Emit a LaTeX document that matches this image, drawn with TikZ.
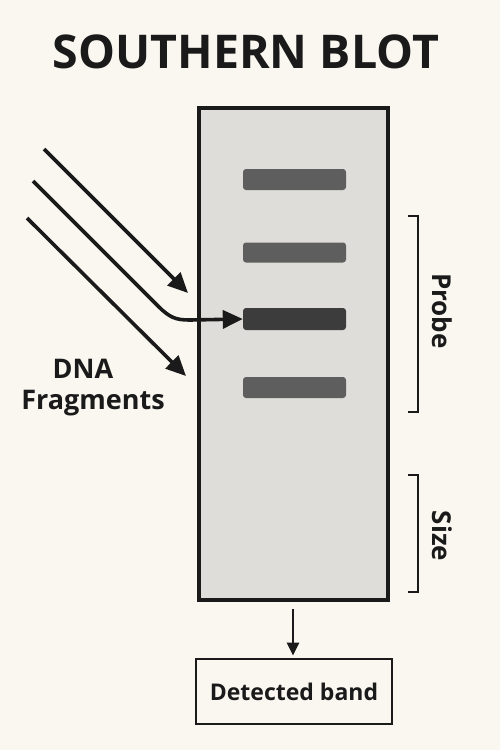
\documentclass[tikz,border=0pt]{standalone}
\usepackage{fontspec}
\setmainfont{Open Sans}
\usetikzlibrary{arrows.meta}
\definecolor{bgc}{HTML}{FAF7F1}
\definecolor{gelc}{HTML}{DFDDD9}
\definecolor{bandc}{HTML}{5E5E5E}
\definecolor{bandd}{HTML}{3C3C3C}
\definecolor{inkc}{HTML}{1A1A1A}
\tikzset{
  band/.style={fill=bandc, rounded corners=3pt, draw=none},
  fragarrow/.style={draw=inkc, line width=3.6pt, -{Triangle[length=20pt,width=18pt]}},
  bracketline/.style={draw=inkc, line width=2.6pt},
  lbl/.style={font=\bfseries\fontsize{26}{30}\selectfont, text=inkc, inner sep=0pt},
}
\begin{document}
\begin{tikzpicture}[x=1pt,y=-1pt]
\fill[bgc] (0,0) rectangle (500,750);
\useasboundingbox (0,0) rectangle (500,750);
% title
\node[font=\bfseries\fontsize{46.5}{54}\selectfont, text=inkc, inner sep=0pt] (title) at (246,52) {SOUTHERN BLOT};
% gel
\node[draw=inkc, line width=3.4pt, fill=gelc, minimum width=189pt, minimum height=492pt, inner sep=0pt] (gel) at (293.5,354) {};
% bands
\node[band, minimum width=103pt, minimum height=21pt] (b1) at (294.5,179.5) {};
\node[band, minimum width=103pt, minimum height=20pt] (b2) at (294.5,252.5) {};
\node[band, fill=bandd, minimum width=103pt, minimum height=22pt] (b3) at (294.5,319) {};
\node[band, minimum width=103pt, minimum height=21pt] (b4) at (294.5,387.5) {};
% fragment arrows
\coordinate (s1) at (44,149);
\coordinate (e1) at (188,293);
\coordinate (s2) at (33,181);
\coordinate (k2) at (158,306);
\coordinate (s3) at (27,218);
\coordinate (e3) at (186,376);
\draw[fragarrow] (s1) -- (e1);
\draw[fragarrow] (s2) -- (k2) .. controls (170,318) and (176,320) .. (190,320) -- (b3.west);
\draw[fragarrow] (s3) -- (e3);
\node[lbl, font=\bfseries\fontsize{27}{31}\selectfont] (dna) at (83,369) {DNA};
\node[lbl, font=\bfseries\fontsize{27}{31}\selectfont] (frag) at (93,403) {Fragments};
% probe bracket
\coordinate (p1) at (408,216);
\coordinate (p2) at (418,216);
\coordinate (p3) at (418,412);
\coordinate (p4) at (408,412);
\draw[bracketline] (p1) -- (p2) -- (p3) -- (p4);
\node[lbl, rotate=-90] (probe) at (442,311) {Probe};
% size bracket
\coordinate (q1) at (408,475);
\coordinate (q2) at (418,475);
\coordinate (q3) at (418,592);
\coordinate (q4) at (408,592);
\draw[bracketline] (q1) -- (q2) -- (q3) -- (q4);
\node[lbl, rotate=-90] (size) at (442,536) {Size};
% detected band
\node[draw=inkc, line width=2.8pt, minimum width=196pt, minimum height=65pt, inner sep=0pt, font=\bfseries\fontsize{23}{27}\selectfont, text=inkc] (det) at (294,691.5) {Detected band};
\draw[draw=inkc, line width=2.4pt, -{Triangle[length=13pt,width=12pt]}] ([yshift=-7pt]gel.south -| 293,0) -- ([yshift=2pt]det.north -| 293,0);
\end{tikzpicture}
\end{document}
